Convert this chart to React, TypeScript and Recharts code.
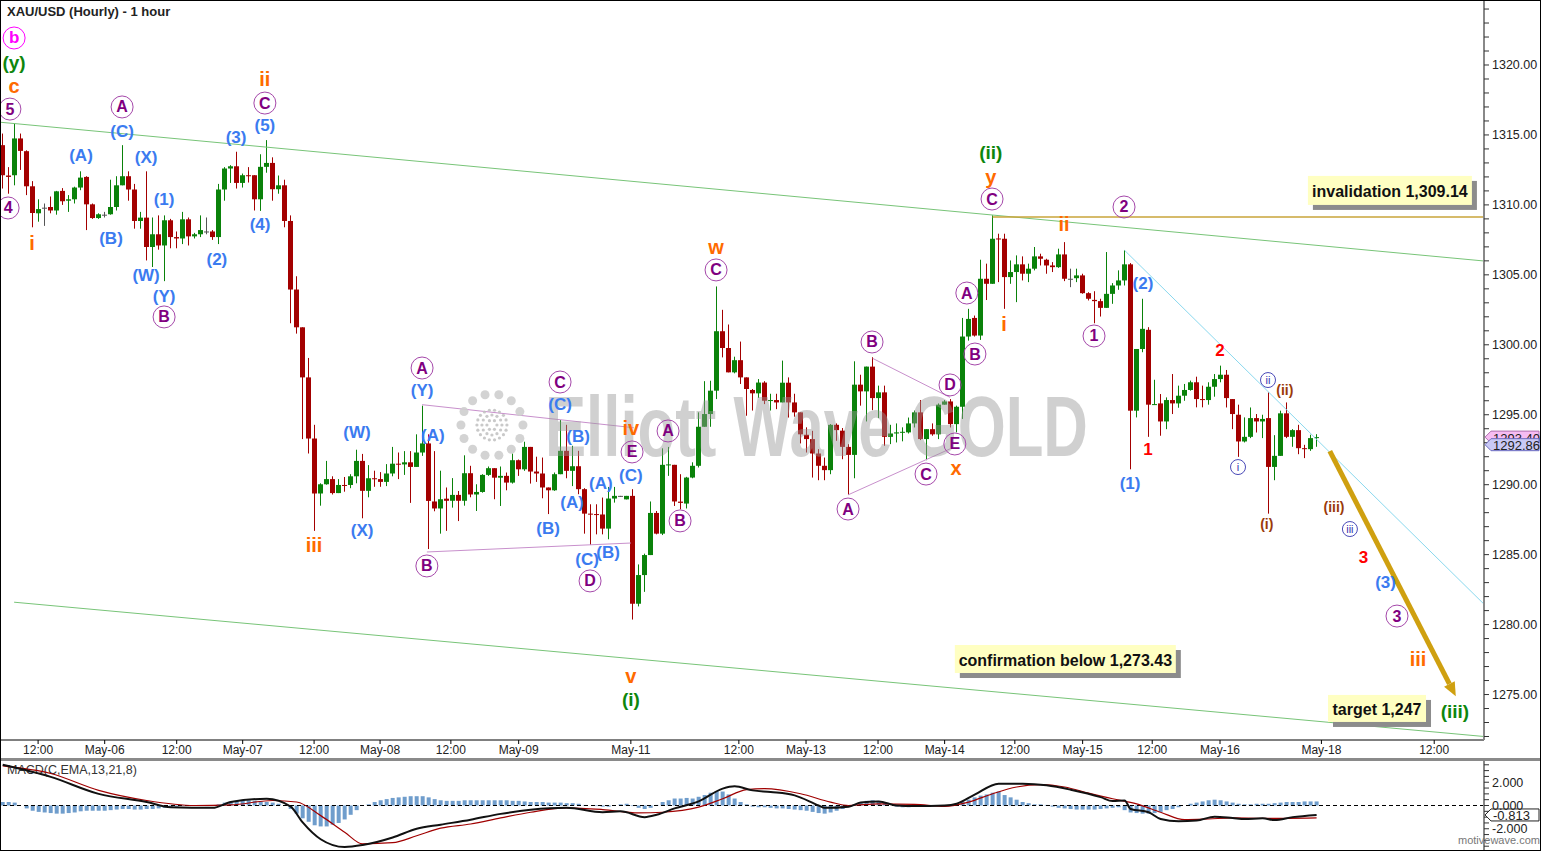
import React from 'react';
import {
  ComposedChart,
  Bar,
  Line,
  XAxis,
  YAxis,
  ReferenceLine,
  ReferenceDot,
} from 'recharts';

const FONT = '"Liberation Sans", Arial, Helvetica, sans-serif';

const opens = [
  1314.27, 1312.1, 1312.12, 1314.75, 1313.84, 1311.33, 1309.4, 1309.8, 1309.85, 1309.6,
  1311.0, 1310.3, 1310.4, 1311.24, 1312.0, 1310.04, 1309.06, 1309.3, 1309.33, 1309.85,
  1311.4, 1312.05, 1311.1, 1308.85, 1309.09, 1306.99, 1307.9, 1307.1, 1308.9, 1307.7,
  1307.6, 1308.97, 1307.75, 1307.9, 1308.1, 1308.1, 1307.7, 1311.1, 1312.6, 1312.76,
  1311.57, 1312.12, 1312.12, 1310.4, 1312.72, 1313.0, 1311.12, 1311.4, 1308.85, 1303.95,
  1301.25, 1297.67, 1293.3, 1289.37, 1290.03, 1290.4, 1289.4, 1289.98, 1289.98, 1290.6,
  1291.7, 1289.56, 1290.46, 1290.4, 1290.2, 1290.8, 1291.5, 1291.45, 1291.6, 1291.27,
  1292.3, 1292.95, 1288.8, 1288.3, 1289.0, 1288.85, 1289.27, 1288.85, 1290.82, 1289.3,
  1289.48, 1290.7, 1291.18, 1290.5, 1290.63, 1290.15, 1291.75, 1291.1, 1292.7, 1290.94,
  1290.8, 1289.8, 1289.6, 1290.75, 1292.42, 1290.99, 1291.32, 1289.68, 1287.93, 1287.9,
  1287.87, 1286.86, 1289.01, 1289.2, 1288.95, 1289.2, 1281.49, 1283.54, 1284.97, 1287.98,
  1286.5, 1291.42, 1291.42, 1288.79, 1288.65, 1290.51, 1291.35, 1294.14, 1295.05, 1296.72,
  1300.97, 1299.77, 1298.03, 1298.9, 1297.67, 1296.77, 1296.53, 1297.3, 1296.0, 1296.05,
  1295.88, 1297.29, 1295.88, 1295.17, 1293.57, 1293.26, 1292.23, 1291.35, 1291.04, 1294.28,
  1293.86, 1292.7, 1292.13, 1297.15, 1296.67, 1298.44, 1296.19, 1296.6, 1293.42, 1293.66,
  1293.74, 1293.74, 1294.38, 1295.17, 1293.26, 1293.97, 1293.6, 1295.72, 1295.95, 1294.33,
  1295.57, 1300.59, 1301.92, 1300.66, 1304.72, 1304.36, 1307.6, 1307.58, 1304.84, 1305.2,
  1305.75, 1305.08, 1305.44, 1306.32, 1306.08, 1305.67, 1305.55, 1306.46, 1304.72, 1304.76,
  1304.96, 1303.69, 1303.21, 1303.12, 1302.64, 1303.64, 1304.24, 1304.6, 1305.75, 1295.29,
  1299.7, 1301.07, 1295.72, 1295.81, 1294.52, 1296.05, 1295.81, 1296.36, 1296.77, 1297.32,
  1296.12, 1296.05, 1297.0, 1297.55, 1297.86, 1296.12, 1295.0, 1293.09, 1293.42, 1294.76,
  1294.52, 1294.76, 1291.27, 1292.06, 1295.1, 1293.42, 1293.9, 1292.61, 1292.54, 1293.33,
];
const highs = [
  1315.1, 1312.7, 1315.82, 1315.1, 1313.9, 1311.7, 1310.4, 1310.1, 1310.6, 1311.0,
  1311.2, 1310.7, 1311.3, 1312.4, 1312.05, 1310.1, 1309.4, 1309.5, 1311.8, 1312.05,
  1314.27, 1312.4, 1311.5, 1309.5, 1312.4, 1309.1, 1309.25, 1309.25, 1309.0, 1308.1,
  1309.5, 1309.1, 1308.0, 1309.25, 1309.1, 1308.2, 1311.5, 1312.7, 1312.84, 1313.8,
  1312.24, 1312.7, 1312.12, 1313.62, 1314.63, 1313.4, 1312.1, 1311.8, 1309.25, 1304.9,
  1301.25, 1299.06, 1294.28, 1290.1, 1291.7, 1290.6, 1290.4, 1290.55, 1290.75, 1292.5,
  1292.2, 1291.4, 1291.0, 1290.9, 1291.47, 1292.7, 1292.3, 1292.4, 1292.4, 1293.6,
  1295.65, 1293.6, 1292.4, 1291.0, 1289.8, 1290.47, 1289.55, 1292.1, 1291.35, 1290.03,
  1290.75, 1291.3, 1291.18, 1291.3, 1290.87, 1292.23, 1291.8, 1293.07, 1292.7, 1292.0,
  1291.94, 1289.8, 1290.87, 1294.62, 1294.28, 1292.78, 1292.42, 1289.75, 1288.6, 1288.6,
  1289.08, 1289.84, 1289.84, 1289.2, 1289.2, 1289.68, 1284.3, 1285.07, 1288.8, 1288.12,
  1292.6, 1292.7, 1291.42, 1290.75, 1290.56, 1291.6, 1295.17, 1297.4, 1297.43, 1304.17,
  1302.5, 1301.45, 1299.15, 1300.23, 1297.67, 1296.84, 1297.55, 1297.4, 1296.5, 1296.5,
  1298.87, 1297.67, 1296.5, 1295.17, 1294.1, 1293.85, 1292.54, 1291.94, 1294.33, 1294.38,
  1294.05, 1292.9, 1298.82, 1297.86, 1298.44, 1299.11, 1297.08, 1297.08, 1294.28, 1294.38,
  1294.1, 1294.8, 1295.3, 1296.05, 1293.97, 1294.38, 1295.81, 1296.05, 1296.12, 1295.65,
  1301.92, 1302.57, 1302.09, 1306.08, 1305.8, 1309.26, 1307.94, 1307.94, 1306.03, 1306.39,
  1306.32, 1305.8, 1306.99, 1306.51, 1306.15, 1305.91, 1306.87, 1307.34, 1305.44, 1305.44,
  1305.08, 1303.76, 1303.83, 1303.29, 1306.63, 1304.41, 1305.32, 1306.75, 1305.84, 1299.7,
  1303.29, 1301.26, 1297.5, 1296.48, 1296.24, 1297.91, 1297.08, 1297.2, 1297.44, 1297.72,
  1297.08, 1297.32, 1297.91, 1298.51, 1298.2, 1296.12, 1295.72, 1294.81, 1295.52, 1295.05,
  1295.0, 1296.6, 1293.54, 1295.29, 1295.88, 1293.97, 1294.28, 1292.85, 1293.57, 1293.61,
];
const lows = [
  1311.17, 1310.8, 1311.4, 1312.5, 1310.7, 1308.4, 1308.8, 1308.5, 1309.4, 1309.3,
  1310.0, 1309.5, 1310.1, 1311.05, 1308.2, 1309.0, 1309.0, 1309.1, 1309.3, 1309.6,
  1311.4, 1310.3, 1308.3, 1308.3, 1306.03, 1305.56, 1306.8, 1304.55, 1306.9, 1306.9,
  1307.2, 1307.1, 1307.6, 1307.7, 1307.9, 1307.5, 1307.2, 1310.3, 1311.57, 1311.17,
  1311.24, 1311.6, 1309.6, 1309.57, 1312.3, 1310.3, 1310.8, 1308.4, 1301.54, 1300.8,
  1293.26, 1292.23, 1286.7, 1288.5, 1290.0, 1289.3, 1289.4, 1289.5, 1289.75, 1290.1,
  1287.6, 1289.1, 1289.85, 1289.85, 1289.9, 1290.6, 1290.4, 1290.7, 1288.7, 1291.27,
  1292.06, 1285.4, 1288.1, 1286.5, 1286.7, 1288.36, 1287.4, 1288.5, 1289.1, 1288.12,
  1289.43, 1290.63, 1288.96, 1288.48, 1289.6, 1290.08, 1290.63, 1290.99, 1290.08, 1290.2,
  1289.03, 1287.9, 1289.56, 1290.75, 1290.46, 1289.9, 1289.32, 1286.5, 1285.7, 1286.45,
  1286.45, 1286.1, 1288.72, 1289.2, 1288.95, 1280.36, 1281.3, 1282.34, 1284.97, 1286.45,
  1286.4, 1290.63, 1288.48, 1288.24, 1288.3, 1290.46, 1291.23, 1294.14, 1294.14, 1296.12,
  1299.1, 1298.03, 1297.96, 1297.2, 1294.93, 1295.3, 1296.2, 1295.76, 1295.3, 1295.4,
  1295.88, 1294.8, 1294.86, 1292.95, 1292.3, 1290.51, 1290.32, 1290.32, 1290.75, 1293.14,
  1291.82, 1289.27, 1290.46, 1295.65, 1294.52, 1295.33, 1294.76, 1292.78, 1292.9, 1293.02,
  1293.1, 1293.66, 1294.09, 1293.19, 1291.75, 1293.5, 1293.26, 1295.72, 1294.09, 1293.74,
  1294.7, 1300.3, 1300.59, 1300.35, 1303.2, 1304.36, 1304.48, 1302.57, 1304.36, 1303.05,
  1304.6, 1304.48, 1305.32, 1305.67, 1305.08, 1305.2, 1305.5, 1304.55, 1304.12, 1304.48,
  1303.65, 1303.17, 1301.54, 1302.02, 1302.64, 1302.93, 1303.93, 1304.24, 1291.1, 1294.81,
  1299.47, 1293.42, 1295.72, 1293.5, 1293.97, 1295.05, 1295.5, 1296.0, 1296.72, 1295.53,
  1295.53, 1295.72, 1296.29, 1297.32, 1295.52, 1293.97, 1291.99, 1293.02, 1293.33, 1293.73,
  1293.33, 1287.93, 1290.32, 1292.06, 1293.33, 1292.71, 1292.18, 1291.9, 1292.42, 1292.71,
];
const closes = [
  1312.12, 1312.0, 1314.75, 1313.86, 1311.33, 1309.42, 1309.7, 1309.8, 1309.6, 1310.97,
  1310.26, 1310.4, 1311.24, 1311.95, 1310.04, 1309.06, 1309.33, 1309.3, 1309.85, 1311.4,
  1312.05, 1311.1, 1308.85, 1309.09, 1306.99, 1307.9, 1307.1, 1308.9, 1307.7, 1307.6,
  1308.97, 1307.75, 1307.9, 1308.2, 1308.1, 1307.7, 1311.1, 1312.6, 1312.76, 1311.57,
  1312.12, 1312.05, 1310.4, 1312.72, 1313.0, 1311.12, 1311.4, 1308.85, 1303.95, 1301.25,
  1297.67, 1293.3, 1289.37, 1290.03, 1290.4, 1289.4, 1289.98, 1289.95, 1290.6, 1291.7,
  1289.56, 1290.46, 1290.4, 1290.2, 1290.8, 1291.5, 1291.45, 1291.6, 1291.27, 1292.3,
  1292.95, 1288.84, 1288.3, 1288.96, 1288.85, 1289.27, 1288.85, 1290.82, 1289.3, 1289.48,
  1290.7, 1291.18, 1290.5, 1290.63, 1290.15, 1291.75, 1291.1, 1292.7, 1290.94, 1290.8,
  1289.8, 1289.6, 1290.75, 1292.42, 1290.99, 1291.32, 1289.68, 1287.93, 1287.9, 1287.87,
  1286.86, 1289.01, 1289.2, 1289.2, 1289.2, 1281.49, 1283.54, 1284.97, 1287.98, 1286.5,
  1291.42, 1291.45, 1288.8, 1288.7, 1290.51, 1291.35, 1294.14, 1295.05, 1296.72, 1300.97,
  1299.77, 1298.03, 1298.9, 1297.67, 1296.84, 1296.53, 1297.3, 1296.0, 1296.05, 1295.88,
  1297.29, 1295.88, 1295.17, 1293.6, 1293.26, 1292.23, 1291.35, 1291.04, 1294.28, 1293.9,
  1292.7, 1292.13, 1297.15, 1296.67, 1298.44, 1296.19, 1296.6, 1293.42, 1293.66, 1293.74,
  1293.78, 1294.38, 1295.17, 1293.26, 1293.97, 1293.6, 1295.72, 1295.95, 1294.33, 1295.57,
  1300.59, 1301.85, 1300.66, 1304.72, 1304.36, 1307.58, 1307.55, 1304.84, 1305.2, 1305.75,
  1305.08, 1305.44, 1306.32, 1306.15, 1305.67, 1305.55, 1306.46, 1304.72, 1304.7, 1304.96,
  1303.69, 1303.29, 1303.12, 1302.64, 1303.64, 1304.24, 1304.6, 1305.75, 1295.29, 1299.7,
  1301.14, 1295.72, 1295.76, 1294.52, 1296.05, 1295.81, 1296.36, 1296.77, 1297.32, 1296.12,
  1296.07, 1297.0, 1297.55, 1297.86, 1296.19, 1295.05, 1293.09, 1293.42, 1294.76, 1294.52,
  1294.7, 1291.27, 1292.06, 1295.1, 1293.42, 1293.9, 1292.61, 1292.54, 1293.33, 1293.4,
];

// MACD(C,EMA,13,21,8) histogram, one value per bar
const histogram = [
  0.3, 0.3, 0.25, 0.0, -0.25, -0.45, -0.55, -0.6, -0.65, -0.7,
  -0.7, -0.65, -0.6, -0.5, -0.45, -0.45, -0.45, -0.45, -0.4, -0.35,
  -0.3, -0.3, -0.35, -0.35, -0.3, -0.3, -0.25, -0.2, -0.15, -0.1,
  -0.05, 0.0, 0.0, 0.0, -0.05, 0.0, 0.1, 0.25, 0.35, 0.4,
  0.45, 0.45, 0.4, 0.35, 0.3, 0.25, 0.15, 0.0, -0.3, -0.7,
  -1.1, -1.4, -1.7, -1.8, -1.8, -1.65, -1.5, -1.2, -0.8, -0.4,
  0.0, 0.1, 0.3, 0.45, 0.55, 0.65, 0.7, 0.75, 0.8, 0.8,
  0.8, 0.7, 0.55, 0.45, 0.4, 0.4, 0.4, 0.45, 0.45, 0.45,
  0.45, 0.45, 0.45, 0.45, 0.45, 0.4, 0.4, 0.35, 0.3, 0.3,
  0.3, 0.25, 0.25, 0.25, 0.2, 0.2, 0.15, 0.05, 0.0, -0.05,
  -0.1, -0.1, 0.0, 0.1, 0.15, -0.05, -0.2, -0.3, -0.2, 0.05,
  0.3, 0.45, 0.6, 0.6, 0.65, 0.6, 0.75, 0.9, 1.1, 1.25,
  1.2, 0.95, 0.6, 0.3, 0.1, -0.1, -0.15, -0.15, -0.2, -0.25,
  -0.25, -0.3, -0.35, -0.4, -0.45, -0.55, -0.65, -0.7, -0.6, -0.45,
  -0.3, -0.1, 0.1, 0.3, 0.4, 0.45, 0.4, 0.2, 0.0, -0.1,
  -0.15, -0.15, -0.1, -0.1, -0.05, -0.05, 0.0, 0.0, 0.05, 0.1,
  0.3, 0.5, 0.7, 0.85, 0.95, 1.1, 1.2, 0.9, 0.7, 0.5,
  0.3, 0.2, 0.1, 0.1, 0.05, -0.1, -0.2, -0.25, -0.3, -0.35,
  -0.35, -0.35, -0.35, -0.3, -0.25, -0.2, -0.15, -0.4, -0.6, -0.65,
  -0.7, -0.7, -0.65, -0.55, -0.4, -0.3, -0.15, 0.0, 0.15, 0.25,
  0.35, 0.45, 0.5, 0.45, 0.35, 0.25, 0.15, 0.1, 0.1, 0.15,
  0.15, 0.15, 0.2, 0.25, 0.3, 0.3, 0.3, 0.35, 0.35, 0.35,
];
// MACD and signal lines, read at these bars
const macdBars = [0, 8, 16, 24, 28, 35, 38, 44, 48, 50, 53, 57, 60, 65, 69, 73, 78, 83, 88, 94, 100, 103, 107, 109, 112, 116, 120, 122, 125, 128, 132, 136, 137, 141, 143, 146, 149, 152, 157, 159, 162, 166, 170, 174, 178, 183, 185, 187, 188, 191, 193, 196, 199, 202, 205, 207, 210, 212, 215, 219];
const macdValues = [3.5, 2.46, 1.0, 0.3, -0.15, -0.2, 0.3, 0.58, -0.1, -1.45, -2.9, -3.57, -3.4, -2.75, -2.0, -1.65, -1.22, -0.72, -0.37, -0.2, -0.58, -0.5, -1.0, -0.8, -0.25, 0.35, 1.45, 1.65, 1.3, 1.16, 0.87, 0.0, -0.2, -0.1, 0.25, 0.35, 0.0, -0.05, 0.0, 0.15, 0.93, 1.88, 1.88, 1.74, 1.36, 0.72, 0.38, 0.43, -0.3, -0.58, -1.16, -1.36, -1.3, -0.96, -1.07, -1.16, -1.1, -1.25, -1.0, -0.81];
const signalBars = [0, 8, 16, 24, 32, 38, 45, 49, 53, 57, 60, 65, 69, 73, 78, 83, 88, 94, 100, 106, 110, 116, 120, 124, 127, 133, 138, 141, 146, 152, 157, 161, 165, 169, 173, 177, 181, 185, 189, 193, 197, 201, 205, 210, 214, 219];
const signalValues = [3.4, 2.75, 1.3, 0.43, 0.0, 0.05, 0.43, 0.3, -0.87, -2.3, -3.3, -3.2, -2.6, -1.95, -1.59, -1.07, -0.58, -0.2, -0.35, -0.64, -0.58, -0.14, 0.58, 1.36, 1.45, 1.01, 0.29, 0.0, 0.14, 0.1, -0.07, 0.29, 1.01, 1.59, 1.8, 1.59, 1.07, 0.58, 0.14, -0.58, -1.22, -1.16, -1.07, -1.1, -1.1, -1.07];

// time axis: bar position of each label
const timeTicks = [5.9, 17, 29, 40, 51.9, 62.9, 74.7, 86, 104.7, 122.7, 133.9, 145.9, 157, 168.7, 180, 191.6, 202.9, 219.8, 238.6];
const timeLabels = ['12:00', 'May-06', '12:00', 'May-07', '12:00', 'May-08', '12:00', 'May-09', 'May-11', '12:00', 'May-13', '12:00', 'May-14', '12:00', 'May-15', '12:00', 'May-16', 'May-18', '12:00'];

const priceLabels = [1275, 1280, 1285, 1290, 1295, 1300, 1305, 1310, 1315, 1320];
const priceTicks = Array.from({ length: 53 }, (_, k) => 1272 + k);
const macdLabels = [-2, 0, 2];
const macdTicks = [-3.5, -3, -2.5, -2, -1.5, -1, -0.5, 0, 0.5, 1, 1.5, 2, 2.5, 3, 3.5];

const X_DOMAIN = [-0.45, 246.9];
const P_DOMAIN = [1271.75, 1324.646];

// wave count labels: [bar, price, text, kind]
const annotations: [number, number, string, string][] = [
  [1.9, 1321.93, 'b', 'magenta'], [1.9, 1320.21, '(y)', 'green'], [1.9, 1318.5, 'c', 'orange'],
  [1.2, 1316.85, '5', 'purple'], [0.9, 1309.78, '4', 'purple'], [4.9, 1307.28, 'i', 'orange'],
  [13.05, 1313.5, '(A)', 'blue'], [19.9, 1317.0, 'A', 'purple'], [19.9, 1315.28, '(C)', 'blue'],
  [18.05, 1307.63, '(B)', 'blue'], [23.9, 1313.42, '(X)', 'blue'], [26.9, 1310.42, '(1)', 'blue'],
  [23.9, 1304.92, '(W)', 'blue'], [26.9, 1303.42, '(Y)', 'blue'], [26.9, 1301.99, 'B', 'purple'],
  [35.7, 1306.13, '(2)', 'blue'], [43.7, 1319.0, 'ii', 'orange'], [43.7, 1317.28, 'C', 'purple'],
  [43.7, 1315.64, '(5)', 'blue'], [38.9, 1314.85, '(3)', 'blue'], [42.9, 1308.63, '(4)', 'blue'],
  [51.9, 1285.69, 'iii', 'orange'], [59.05, 1293.7, '(W)', 'blue'], [59.9, 1286.69, '(X)', 'blue'],
  [69.9, 1298.34, 'A', 'purple'], [69.9, 1296.7, '(Y)', 'blue'], [71.7, 1293.55, '(A)', 'blue'],
  [70.7, 1284.19, 'B', 'purple'], [92.9, 1297.34, 'C', 'purple'], [92.9, 1295.7, '(C)', 'blue'],
  [95.9, 1293.48, '(B)', 'blue'], [94.9, 1288.76, '(A)', 'blue'], [90.9, 1286.9, '(B)', 'blue'],
  [97.4, 1284.62, '(C)', 'blue'], [97.9, 1283.12, 'D', 'purple'], [100.9, 1285.12, '(B)', 'blue'],
  [99.7, 1290.12, '(A)', 'blue'], [104.7, 1294.05, 'iv', 'orange'], [104.9, 1292.34, 'E', 'purple'],
  [104.7, 1290.69, '(C)', 'blue'], [110.9, 1293.84, 'A', 'purple'], [112.9, 1287.41, 'B', 'purple'],
  [104.7, 1276.33, 'v', 'orange'], [104.7, 1274.61, '(i)', 'green'], [118.9, 1306.99, 'w', 'orange'],
  [118.9, 1305.35, 'C', 'purple'], [144.9, 1300.2, 'B', 'purple'], [157.9, 1297.13, 'D', 'purple'],
  [158.7, 1292.91, 'E', 'purple'], [158.9, 1291.19, 'x', 'orange'], [153.9, 1290.76, 'C', 'purple'],
  [140.9, 1288.26, 'A', 'purple'], [160.7, 1303.7, 'A', 'purple'], [162.05, 1299.34, 'B', 'purple'],
  [164.7, 1313.71, '(ii)', 'green'], [164.7, 1311.99, 'y', 'orange'], [164.9, 1310.42, 'C', 'purple'],
  [166.9, 1301.49, 'i', 'orange'], [176.9, 1308.63, 'ii', 'orange'], [186.9, 1309.85, '2', 'purple'],
  [190.05, 1304.35, '(2)', 'blue'], [181.9, 1300.63, '1', 'purple'], [187.9, 1290.05, '(1)', 'blue'],
  [190.9, 1292.48, '1', 'red'], [202.9, 1299.56, '2', 'red'], [210.9, 1297.48, 'ii', 'navy'],
  [213.7, 1296.77, '(ii)', 'brown'], [205.9, 1291.26, 'i', 'navy'], [210.7, 1287.19, '(i)', 'brown'],
  [221.9, 1288.41, '(iii)', 'brown'], [224.55, 1286.83, 'iii', 'navy'], [226.8, 1284.83, '3', 'red'],
  [230.5, 1283.04, '(3)', 'blue'], [232.4, 1280.61, '3', 'purple'], [235.9, 1277.54, 'iii', 'orange'],
  [242.05, 1273.82, '(iii)', 'green'],
];

// trend lines: [bar1, price1, bar2, price2, colour]
const trendLines: [number, number, number, number, string][] = [
  [-0.45, 1315.91, 246.9, 1305.99, '#78c478'],
  [1.9, 1281.6, 246.9, 1272.0, '#78c478'],
  [69.9, 1295.72, 105.2, 1294.07, '#c890cc'],
  [70.7, 1285.19, 104.7, 1285.83, '#c890cc'],
  [145, 1299.03, 157.9, 1296.24, '#c890cc'],
  [140.9, 1289.27, 157.9, 1292.56, '#c890cc'],
  [187, 1306.75, 246.9, 1281.46, '#8ad8ee'],
  [165, 1309.14, 246.9, 1309.14, '#c9a43a'],
];

const notes: [number, number, string, number, number][] = [
  [217.55, 1312.07, 'invalidation 1,309.14', 164, 29],
  [158.7, 1278.54, 'confirmation below 1,273.43', 221, 28],
  [220.9, 1274.97, 'target 1,247', 98, 27],
];

const waveStyles: Record<string, any> = {
  blue: { color: '#3b7bf0', size: 17 },
  orange: { color: '#ff6a00', size: 20 },
  green: { color: '#0d860d', size: 19 },
  red: { color: '#ff0000', size: 17 },
  brown: { color: '#9a3a0a', size: 14 },
  purple: { color: '#800080', size: 16, ring: 11, stroke: '#a548aa' },
  navy: { color: '#3535b0', size: 11, ring: 7.5, stroke: '#4a4ab8', weight: 'normal' },
  magenta: { color: '#ff00ff', size: 17, ring: 11, stroke: '#ff00ff' },
};

const candles = closes.map((c, i) => ({
  i,
  range: [lows[i], highs[i]],
  open: opens[i],
  high: highs[i],
  low: lows[i],
  close: c,
}));

const pick = (bars: number[], vals: number[], i: number) => {
  const k = bars.indexOf(i);
  return k >= 0 ? vals[k] : null;
};

const macdRows = histogram.map((h, i) => ({
  i,
  hist: h,
  macd: pick(macdBars, macdValues, i),
  signal: pick(signalBars, signalValues, i),
}));

const Candle = (props: any) => {
  const { x, y, width, height, payload } = props;
  if (x == null || y == null || !payload) return null;
  const { open, close, high, low } = payload;
  const top = Math.min(y, y + height);
  const bottom = Math.max(y, y + height);
  const span = high - low;
  const toY = (v: number) => (span > 0 ? bottom - ((v - low) / span) * (bottom - top) : top);
  const mid = Math.round(x + width / 2 - 0.5);
  const color = close > open + 0.02 ? '#0a820a' : close < open - 0.02 ? '#a30000' : '#555';
  const bTop = toY(Math.max(open, close));
  const bBot = toY(Math.min(open, close));
  return (
    <g>
      <rect x={mid} y={top} width={1} height={Math.max(1, bottom - top)} fill={color} />
      <rect x={mid - 2} y={bTop} width={5} height={Math.max(1, bBot - bTop)} fill={color} />
    </g>
  );
};

const WaveMark = ({ cx, cy, text, kind }: any) => {
  const s = waveStyles[kind];
  return (
    <g>
      {s.ring ? <circle cx={cx} cy={cy} r={s.ring} fill="none" stroke={s.stroke} strokeWidth={1} /> : null}
      <text
        x={cx}
        y={cy}
        textAnchor="middle"
        dominantBaseline="central"
        fill={s.color}
        fontSize={s.size}
        fontWeight={s.weight || 'bold'}
        fontFamily={FONT}
      >
        {text}
      </text>
    </g>
  );
};

const NoteBox = ({ cx, cy, text, w, h }: any) => (
  <g>
    <rect x={cx + 5} y={cy + 5} width={w} height={h} fill="#8c8c8c" />
    <rect x={cx} y={cy} width={w} height={h} fill="#ffffc2" />
    <text x={cx + w / 2} y={cy + h / 2 + 1} textAnchor="middle" dominantBaseline="central" fontSize={16} fontWeight="bold" fontFamily={FONT} fill="#111">
      {text}
    </text>
  </g>
);

const PriceTag = ({ cx, cy, text, fill, stroke }: any) => (
  <g>
    <polygon
      points={`${cx + 1},${cy} ${cx + 7},${cy - 6} ${cx + 55},${cy - 6} ${cx + 55},${cy + 6} ${cx + 7},${cy + 6}`}
      fill={fill}
      stroke={stroke}
      strokeWidth={1}
    />
    <text x={cx + 9} y={cy + 1} dominantBaseline="central" fontSize={13} fontFamily={FONT} fill="#222">
      {text}
    </text>
  </g>
);

const Arrow = (p: any) => {
  const { x1, y1, x2, y2 } = p;
  if (x1 == null) return null;
  const ang = Math.atan2(y2 - y1, x2 - x1);
  const len = 14;
  const bx = x2 - len * Math.cos(ang);
  const by = y2 - len * Math.sin(ang);
  const nx = -Math.sin(ang) * 6;
  const ny = Math.cos(ang) * 6;
  return (
    <g>
      <line x1={x1} y1={y1} x2={bx} y2={by} stroke="#cfa010" strokeWidth={5} />
      <polygon points={`${x2},${y2} ${bx + nx},${by + ny} ${bx - nx},${by - ny}`} fill="#cfa010" />
    </g>
  );
};

const Watermark = ({ cx, cy }: any) => {
  const dots: React.ReactNode[] = [];
  const ox = cx - 53;
  const oy = cy - 31;
  for (let k = 0; k < 14; k++) {
    const a = (k / 14) * Math.PI * 2;
    dots.push(<circle key={'o' + k} cx={ox + 31 * Math.cos(a)} cy={oy + 31 * Math.sin(a)} r={4.5} fill="#cfcfcf" />);
  }
  [5, 10, 15].forEach((rad, j) => {
    const n = 6 * (j + 1);
    for (let k = 0; k < n; k++) {
      const a = (k / n) * Math.PI * 2;
      dots.push(<circle key={'i' + j + k} cx={ox + rad * Math.cos(a)} cy={oy + rad * Math.sin(a)} r={1.6} fill="#c4c4c4" />);
    }
  });
  return (
    <g opacity={0.9} style={{ pointerEvents: 'none' }}>
      {dots}
      <text
        x={cx}
        y={cy}
        fontSize={86}
        fontWeight="bold"
        fontFamily={FONT}
        textLength={543}
        lengthAdjust="spacingAndGlyphs"
        fill="#999"
        fillOpacity={0.5}
      >
        Elliott Wave GOLD
      </text>
    </g>
  );
};

const App: React.FC = () => {
  return (
    <div
      style={{
        position: 'absolute',
        left: 0,
        top: 0,
        width: 1541,
        height: 851,
        background: '#fff',
        overflow: 'hidden',
        fontFamily: FONT,
      }}
    >
      <div style={{ position: 'absolute', left: 7, top: 4, fontSize: 13, fontWeight: 'bold', color: '#222' }}>
        XAU/USD (Hourly) - 1 hour
      </div>
      <div style={{ position: 'absolute', left: 0, top: 0 }}>
        <ComposedChart width={1541} height={760} data={candles} margin={{ top: 0, right: 0, bottom: 0, left: 0 }}>
          <XAxis
            dataKey="i"
            type="number"
            domain={X_DOMAIN}
            allowDataOverflow
            ticks={timeTicks}
            interval={0}
            height={20}
            tickSize={4}
            tickMargin={1}
            tickFormatter={(v: number) => timeLabels[timeTicks.indexOf(v)] || ''}
            tick={{ fontSize: 12, fill: '#222', fontFamily: FONT }}
            axisLine={{ stroke: '#000' }}
            tickLine={{ stroke: '#000' }}
          />
          <YAxis
            orientation="right"
            width={57}
            type="number"
            domain={P_DOMAIN}
            allowDataOverflow
            ticks={priceTicks}
            interval={0}
            tickSize={5}
            tickMargin={3}
            tickFormatter={(v: number) => (priceLabels.includes(v) ? v.toFixed(2) : '')}
            tick={{ fontSize: 12.5, fill: '#222', fontFamily: FONT }}
            axisLine={{ stroke: '#888', strokeWidth: 2 }}
            tickLine={{ stroke: '#333' }}
          />
          {trendLines.map((t, k) => (
            <ReferenceLine
              key={'t' + k}
              segment={[{ x: t[0], y: t[1] }, { x: t[2], y: t[3] }]}
              stroke={t[4]}
              strokeWidth={k === 7 ? 1.5 : 1}
              ifOverflow="visible"
            />
          ))}
          <Bar dataKey="range" barSize={5} shape={Candle} isAnimationActive={false} />
          <ReferenceDot x={90.38} y={1292.05} r={0} ifOverflow="visible" shape={(p: any) => <Watermark cx={p.cx} cy={p.cy} />} />
          <ReferenceLine
            segment={[{ x: 221.2, y: 1292.4 }, { x: 242.2, y: 1274.87 }]}
            ifOverflow="visible"
            shape={(p: any) => <Arrow {...p} />}
          />
          {annotations.map((a, k) => (
            <ReferenceDot
              key={'w' + k}
              x={a[0]}
              y={a[1]}
              r={0}
              ifOverflow="visible"
              shape={(p: any) => <WaveMark cx={p.cx} cy={p.cy} text={a[2]} kind={a[3]} />}
            />
          ))}
          {notes.map((n, k) => (
            <ReferenceDot
              key={'n' + k}
              x={n[0]}
              y={n[1]}
              r={0}
              ifOverflow="visible"
              shape={(p: any) => <NoteBox cx={p.cx} cy={p.cy} text={n[2]} w={n[3]} h={n[4]} />}
            />
          ))}
          <ReferenceDot
            x={246.9}
            y={1293.4}
            r={0}
            ifOverflow="visible"
            shape={(p: any) => <PriceTag cx={p.cx} cy={p.cy} text="1293.40" fill="#f6bcf2" stroke="#b070b0" />}
          />
          <ReferenceDot
            x={246.9}
            y={1292.86}
            r={0}
            ifOverflow="visible"
            shape={(p: any) => <PriceTag cx={p.cx} cy={p.cy} text="1292.86" fill="#c9c9f6" stroke="#6c6cc0" />}
          />
        </ComposedChart>
      </div>
      <div style={{ position: 'absolute', left: 0, top: 758, width: 1541, height: 3, background: '#8a8a8a' }} />
      <div style={{ position: 'absolute', left: 7, top: 763, fontSize: 12.5, color: '#333' }}>MACD(C,EMA,13,21,8)</div>
      <div style={{ position: 'absolute', left: 0, top: 761 }}>
        <ComposedChart width={1541} height={89} data={macdRows} margin={{ top: 0, right: 0, bottom: 0, left: 0 }}>
          <XAxis dataKey="i" type="number" domain={X_DOMAIN} allowDataOverflow hide />
          <YAxis
            orientation="right"
            width={57}
            type="number"
            domain={[-3.826, 3.826]}
            allowDataOverflow
            ticks={macdTicks}
            interval={0}
            tickSize={5}
            tickMargin={3}
            tickFormatter={(v: number) => (macdLabels.includes(v) ? v.toFixed(3) : '')}
            tick={{ fontSize: 12.5, fill: '#222', fontFamily: FONT }}
            axisLine={{ stroke: '#888', strokeWidth: 2 }}
            tickLine={{ stroke: '#333' }}
          />
          <Bar dataKey="hist" barSize={4} fill="#6f9dcc" isAnimationActive={false} />
          <ReferenceLine y={0} stroke="#000" strokeDasharray="4 3" ifOverflow="visible" />
          <Line dataKey="signal" type="monotone" stroke="#a00000" strokeWidth={1.2} dot={false} connectNulls isAnimationActive={false} />
          <Line dataKey="macd" type="monotone" stroke="#111" strokeWidth={2} dot={false} connectNulls isAnimationActive={false} />
          <ReferenceDot
            x={246.9}
            y={-0.813}
            r={0}
            ifOverflow="visible"
            shape={(p: any) => <PriceTag cx={p.cx} cy={p.cy} text="-0.813" fill="#fff" stroke="#222" />}
          />
        </ComposedChart>
      </div>
      <div style={{ position: 'absolute', left: 1458, top: 834, fontSize: 11, color: '#777' }}>motivewave.com</div>
      <div
        style={{
          position: 'absolute',
          left: 0,
          top: 0,
          width: 1541,
          height: 851,
          boxSizing: 'border-box',
          border: '1px solid #000',
          pointerEvents: 'none',
        }}
      />
    </div>
  );
};

export default App;
